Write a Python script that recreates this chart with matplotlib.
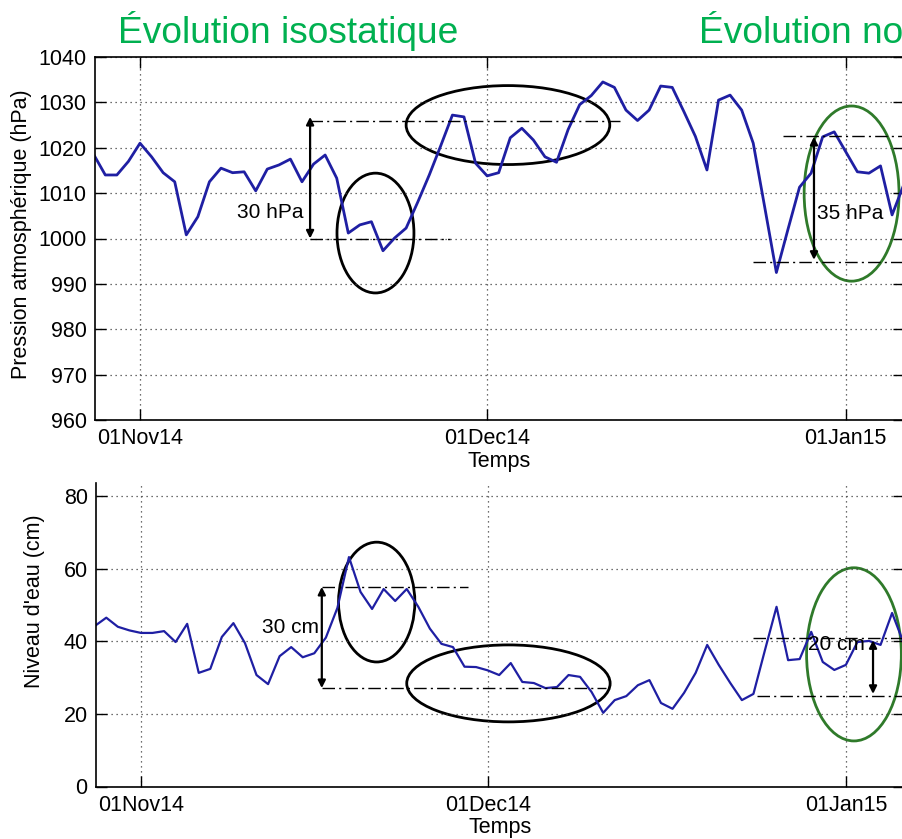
import datetime
import matplotlib
matplotlib.use('Agg')
import matplotlib.pyplot as plt
import matplotlib.dates as mdates
from matplotlib.patches import Ellipse

plt.rcParams['font.family'] = ['Liberation Sans', 'DejaVu Sans']

# données journalières, du 28 oct 2014 au 6 jan 2015
debut = datetime.datetime(2014, 10, 28)
pression = [1018.5, 1014, 1014, 1017, 1021, 1018, 1014.5, 1012.5, 1000.8, 1004.8,
            1012.5, 1015.5, 1014.5, 1014.7, 1010.5, 1015.3, 1016.2, 1017.5, 1012.5, 1016.4,
            1018.4, 1013.3, 1001.2, 1003, 1003.7, 997.3, 1000.1, 1002.3, 1008, 1014,
            1020.5, 1027.2, 1026.8, 1016.6, 1013.8, 1014.5, 1022.2, 1024.3, 1021.7, 1018,
            1016.8, 1024, 1029.5, 1031.5, 1034.5, 1033.3, 1028.3, 1026, 1028.3, 1033.6,
            1033.3, 1028, 1022.5, 1015.1, 1030.5, 1031.6, 1028.3, 1021, 1006.8, 992.5,
            1002, 1011.3, 1014.4, 1022.4, 1023.5, 1019.1, 1014.7, 1014.4, 1016, 1005.2,
            1011.8]
niveau = [44.2, 46.5, 44, 43, 42.3, 42.3, 42.8, 39.8, 44.8, 31.3,
          32.4, 41.2, 45, 39.5, 30.7, 28.2, 35.9, 38.4, 35.6, 36.7,
          41, 49.2, 63.2, 53.6, 48.9, 54.4, 51.1, 54.4, 49.5, 43.5,
          39.3, 38.4, 33, 32.9, 32, 30.7, 34, 28.8, 28.5, 27.1,
          27.4, 30.7, 30.2, 26, 20.3, 23.8, 24.9, 27.9, 29.3, 23,
          21.4, 25.8, 31.3, 39, 33.5, 28.5, 23.8, 25.5, 37.6, 49.5,
          34.8, 35.1, 42.6, 34.3, 32.1, 33.5, 39.8, 40.1, 39, 47.8,
          39.5]
dates = [debut + datetime.timedelta(days=i) for i in range(len(pression))]
ticks_dates = [datetime.datetime(2014, 11, 1), datetime.datetime(2014, 12, 1),
               datetime.datetime(2015, 1, 1)]

NOV1 = mdates.date2num(datetime.datetime(2014, 11, 1))


def jour(d):
    """ position en jours depuis le 1er novembre """
    return NOV1 + d


BLEU = '#1f1fa3'
VERT = '#2f7a2a'
FS = 15.5
XMIN, XMAX = jour(-3.89), jour(66.03)

fig = plt.figure(figsize=(9.02, 8.39), dpi=100)
ax1 = fig.add_axes([95 / 902, 1 - 420 / 839, 809 / 902, 363 / 839])
ax2 = fig.add_axes([96 / 902, 1 - 786.5 / 839, 808 / 902, 303.5 / 839])


def style_axe(ax):
    ax.xaxis.set_major_formatter(mdates.DateFormatter('%d%b%y'))
    ax.set_xticks(ticks_dates)
    ax.set_xlim(XMIN, XMAX)
    ax.tick_params(direction='in', length=8, width=1, labelsize=FS,
                   top=True, right=True, pad=6)
    ax.grid(True, linestyle=(0, (1, 3)), color='0.25', linewidth=0.9)
    ax.set_xlabel('Temps', fontsize=FS, labelpad=1)
    for s in ax.spines.values():
        s.set_linewidth(1.2)


def dashdot(ax, y, x0, x1):
    ax.plot([x0, x1], [y, y], color='k', lw=1, linestyle=(0, (9, 3, 1.5, 3)))


def fleche(ax, x, y0, y1):
    ax.annotate('', xy=(x, y1), xytext=(x, y0),
                arrowprops=dict(arrowstyle='<|-|>', color='k', lw=1.6,
                                mutation_scale=11, shrinkA=0, shrinkB=0))


# --- pression atmosphérique ---
ax1.plot(dates, pression, color=BLEU, lw=2)
style_axe(ax1)
ax1.set_ylim(960, 1040)
ax1.set_yticks(range(960, 1041, 10))
ax1.set_ylabel('Pression atmosphérique (hPa)', fontsize=FS)
ax1.yaxis.set_label_coords(-0.078, 0.512)

dashdot(ax1, 1026, jour(14.7), jour(41.5))
dashdot(ax1, 1000, jour(14.7), jour(26.8))
fleche(ax1, jour(14.7), 1000, 1026.8)
ax1.text(jour(14.1), 1005.7, '30 hPa', fontsize=15, ha='right', va='center')
ax1.add_patch(Ellipse((jour(20.35), 1001.2), 6.65, 26.4, fill=False, ec='k', lw=2))
ax1.add_patch(Ellipse((jour(31.8), 1025), 17.6, 17.4, fill=False, ec='k', lw=2))

dashdot(ax1, 1022.5, jour(55.6), XMAX)
dashdot(ax1, 994.8, jour(53), XMAX)
fleche(ax1, jour(58.25), 1022.4, 995.3)
ax1.text(jour(58.5), 1005.5, '35 hPa', fontsize=15, ha='left', va='center')
ax1.add_patch(Ellipse((jour(61.5), 1009.9), 8.2, 38.6, fill=False, ec=VERT, lw=2))

# --- niveau d'eau ---
ax2.plot(dates, niveau, color=BLEU, lw=1.6)
style_axe(ax2)
ax2.set_ylim(0, 83.6)
ax2.set_yticks(range(0, 81, 20))
ax2.spines['top'].set_visible(False)
ax2.tick_params(top=False)
ax2.set_ylabel("Niveau d'eau (cm)", fontsize=FS)
ax2.yaxis.set_label_coords(-0.063, 0.61)

dashdot(ax2, 55, jour(15.65), jour(28.3))
dashdot(ax2, 27.1, jour(15.65), jour(40.2))
fleche(ax2, jour(15.65), 27.1, 55)
ax2.text(jour(15.4), 43.9, '30 cm', fontsize=15, ha='right', va='center')
ax2.add_patch(Ellipse((jour(20.4), 50.8), 6.6, 33, fill=False, ec='k', lw=2))
ax2.add_patch(Ellipse((jour(31.8), 28.4), 17.6, 21.2, fill=False, ec='k', lw=2))

dashdot(ax2, 40.8, jour(53), XMAX)
dashdot(ax2, 25, jour(53.3), XMAX)
fleche(ax2, jour(63.35), 40.3, 25.5)
ax2.text(jour(57.7), 39, '20 cm', fontsize=15, ha='left', va='center')
ax2.add_patch(Ellipse((jour(61.7), 36.4), 8.2, 47.7, fill=False, ec=VERT, lw=2))

# titres (le second est coupé par le bord droit, comme dans l'original)
fig.text(118 / 902, 1 - 43 / 839, 'Évolution isostatique', color='#00b050',
         fontsize=26.7, va='baseline', ha='left')
fig.text(699 / 902, 1 - 43 / 839, 'Évolution non isostatique', color='#00b050',
         fontsize=26.7, va='baseline', ha='left')

fig.savefig('out.png', dpi=100)
